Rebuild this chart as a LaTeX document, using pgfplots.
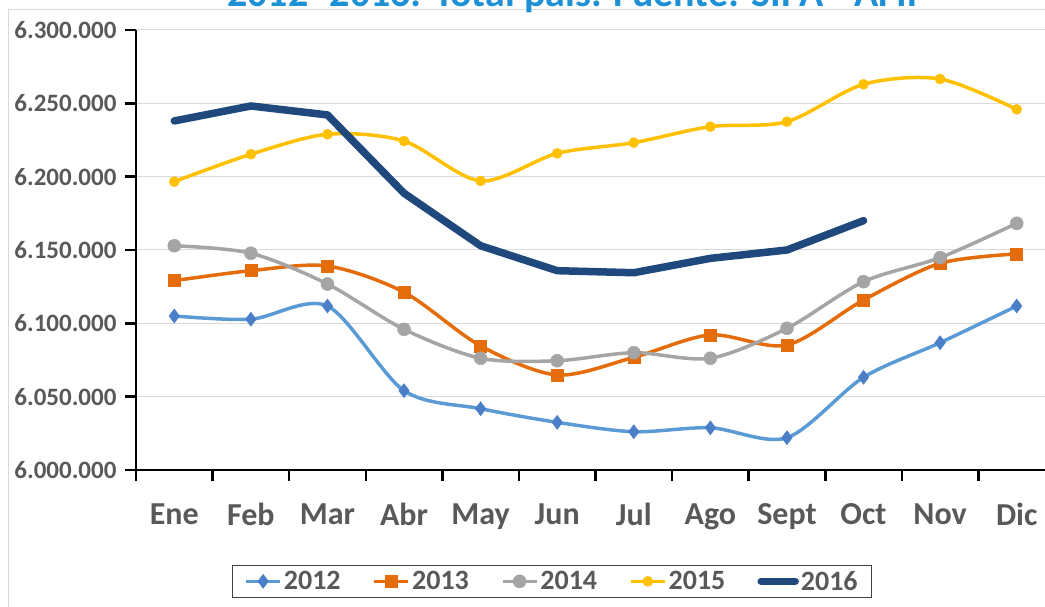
\documentclass[border=0pt]{standalone}
\usepackage{fontspec}
\setmainfont{Carlito}
\usepackage{pgfplots}
\pgfplotsset{compat=1.18}
\definecolor{c12}{HTML}{5B9BD5}
\definecolor{c12m}{HTML}{4A7EC7}
\definecolor{c13}{HTML}{E46C0A}
\definecolor{c14}{HTML}{A5A5A5}
\definecolor{c15}{HTML}{FFC000}
\definecolor{c16}{HTML}{1F497D}
\definecolor{tickc}{HTML}{595959}
\definecolor{titc}{HTML}{1E90D6}
\definecolor{gridc}{HTML}{D9D9D9}
\begin{document}
\begin{tikzpicture}
\useasboundingbox (0bp,0bp) rectangle (1045bp,607bp);
\draw[gridc, line width=1bp] (8bp,0bp) -- (8bp,597bp) -- (1045bp,597bp);
\node[anchor=base, text=titc, inner sep=0pt, font=\fontsize{40bp}{46bp}\selectfont\bfseries] at (578bp,600bp) {2012- 2016: Total país. Fuente: SIPA - AFIP};
\begin{axis}[
  at={(136bp,137bp)}, anchor=south west,
  width=919bp, height=440bp, scale only axis,
  xmin=-0.5, xmax=11.5, ymin=6000000, ymax=6300000,
  scaled y ticks=false,
  axis x line*=bottom, axis y line*=left,
  axis line style={black, line width=2.5bp},
  tick align=outside, major tick length=11bp,
  tick style={black, line width=2.5bp},
  xtick={-0.5,0.5,1.5,2.5,3.5,4.5,5.5,6.5,7.5,8.5,9.5,10.5,11.5},
  xticklabels={},
  extra x ticks={0,1,2,3,4,5,6,7,8,9,10,11},
  extra x tick labels={Ene,Feb,Mar,Abr,May,Jun,Jul,Ago,Sept,Oct,Nov,Dic},
  extra x tick style={major tick length=0pt, xmajorgrids=false,
     xticklabel style={font=\fontsize{32bp}{38bp}\selectfont\bfseries, text=tickc, yshift=-30bp}},
  ytick={6000000,6050000,6100000,6150000,6200000,6250000,6300000},
  yticklabels={6.000.000,6.050.000,6.100.000,6.150.000,6.200.000,6.250.000,6.300.000},
  yticklabel style={font=\fontsize{25bp}{29bp}\selectfont\bfseries, text=tickc, xshift=-5bp},
  ymajorgrids, grid style={gridc, line width=1bp},
  clip=false,
  legend columns=5,
  legend image code/.code={\draw[mark repeat=2,mark phase=2,#1] plot coordinates {(0bp,0bp) (17bp,0bp) (34bp,0bp)};},
  legend style={at={(axis description cs:0.4527,-0.253)}, anchor=center,
    draw=black!75, line width=1bp, font=\fontsize{28bp}{32bp}\selectfont\bfseries, text=tickc,
    inner xsep=12bp, inner ysep=4bp,
    /tikz/every even column/.append style={column sep=30bp}},
]
\addplot[c12, line width=3.5bp, smooth, tension=0.5, mark=diamond*, mark size=7bp,
  mark options={fill=c12m, draw=c12m, line width=0.5bp}] coordinates {
(0,6105000) (1,6102800) (2,6111800) (3,6054100) (4,6041800) (5,6032500)
(6,6026100) (7,6028800) (8,6022000) (9,6063200) (10,6086800) (11,6111800)};
\addlegendentry{2012}
\addplot[c13, line width=3.5bp, smooth, tension=0.5, mark=square*, mark size=6bp,
  mark options={fill=c13, draw=c13, line width=0.5bp}] coordinates {
(0,6129100) (1,6135900) (2,6139100) (3,6121200) (4,6084600) (5,6064800)
(6,6076800) (7,6092100) (8,6085200) (9,6115900) (10,6140900) (11,6147300)};
\addlegendentry{2013}
\addplot[c14, line width=3.5bp, smooth, tension=0.5, mark=*, mark size=6.5bp,
  mark options={fill=c14, draw=c14, line width=0.5bp}] coordinates {
(0,6152900) (1,6147800) (2,6126800) (3,6095900) (4,6076200) (5,6074500)
(6,6080000) (7,6076200) (8,6096600) (9,6128400) (10,6144800) (11,6168200)};
\addlegendentry{2014}
\addplot[c15, line width=3.5bp, smooth, tension=0.5, mark=*, mark size=5bp,
  mark options={fill=c15, draw=c15, line width=0.5bp}] coordinates {
(0,6196600) (1,6215300) (2,6228900) (3,6224300) (4,6197100) (5,6215900)
(6,6223200) (7,6234100) (8,6237500) (9,6263000) (10,6266600) (11,6245900)};
\addlegendentry{2015}
\addplot[c16, line width=7.5bp, line join=round, line cap=round] coordinates {
(0,6238000) (1,6248200) (2,6242100) (3,6188700) (4,6152900) (5,6135900)
(6,6134500) (7,6144300) (8,6150000) (9,6170000)};
\addlegendentry{2016}
\end{axis}
\end{tikzpicture}
\end{document}
